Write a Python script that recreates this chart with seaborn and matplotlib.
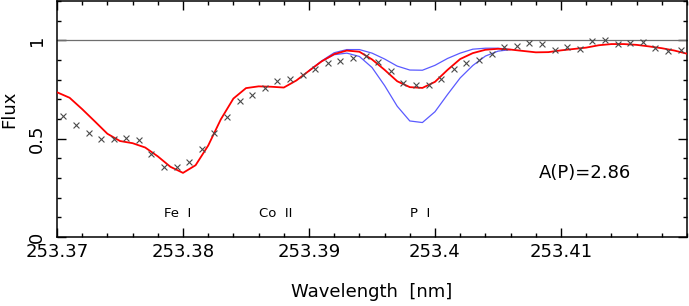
import numpy as np
import pandas as pd
import matplotlib
matplotlib.use("Agg")
import matplotlib.pyplot as plt
import seaborn as sns

# Observed spectrum (crosses), sampled every 0.001 nm from 253.3705
obs_wave = np.round(253.3705 + 0.001 * np.arange(50), 4)
obs_flux = [0.613, 0.572, 0.530, 0.499, 0.499, 0.503, 0.494, 0.423, 0.357, 0.357,
            0.382, 0.447, 0.530, 0.609, 0.689, 0.724, 0.760, 0.792, 0.802, 0.822,
            0.856, 0.885, 0.893, 0.912, 0.922, 0.888, 0.843, 0.783, 0.772, 0.772,
            0.804, 0.856, 0.885, 0.898, 0.932, 0.968, 0.970, 0.985, 0.981, 0.951,
            0.968, 0.956, 0.998, 1.002, 0.981, 0.988, 0.992, 0.959, 0.946, 0.953]

# Best-fit synthesis, A(P)=2.86 (red)
syn_wave = np.round(253.370 + 0.001 * np.arange(51), 4)
syn_best = [0.736, 0.708, 0.650, 0.588, 0.525, 0.488, 0.477, 0.455, 0.410, 0.357,
            0.326, 0.365, 0.465, 0.598, 0.704, 0.757, 0.766, 0.764, 0.760, 0.796,
            0.845, 0.893, 0.930, 0.948, 0.942, 0.903, 0.850, 0.792, 0.762, 0.758,
            0.789, 0.850, 0.905, 0.935, 0.952, 0.957, 0.953, 0.946, 0.939, 0.940,
            0.949, 0.956, 0.963, 0.975, 0.981, 0.981, 0.977, 0.969, 0.960, 0.948,
            0.932]

# Synthesis with lower / higher P abundance (blue), around the P I line
alt_wave = syn_wave[20:37]
syn_low = [0.845, 0.895, 0.937, 0.953, 0.953, 0.935, 0.905, 0.869, 0.849, 0.848,
           0.873, 0.908, 0.935, 0.955, 0.960, 0.960, 0.953]
syn_high = [0.845, 0.893, 0.927, 0.935, 0.918, 0.862, 0.770, 0.665, 0.590, 0.582,
            0.637, 0.725, 0.809, 0.872, 0.920, 0.945, 0.953]

line_names = ["Fe  I", "Co  II", "P  I"]
line_waves = [253.3796, 253.38735, 253.3988]

xtick_vals = [253.37, 253.38, 253.39, 253.40, 253.41]
xtick_labels = ["253.37", "253.38", "253.39", "253.4", "253.41"]
ytick_vals = [0, 0.5, 1]
ytick_labels = ["0", "0.5", "1"]

sns.set_theme(style="ticks")
plt.rcParams["font.family"] = ["DejaVu Sans"]
plt.rcParams["text.color"] = "black"
plt.rcParams["axes.labelcolor"] = "black"

fig = plt.figure(figsize=(6.89, 3.06), dpi=100)
ax = fig.add_axes([57 / 689, 1 - 237 / 306, 630 / 689, 236 / 306])

obs = pd.DataFrame({"wave": obs_wave, "flux": obs_flux})
best = pd.DataFrame({"wave": syn_wave, "flux": syn_best})
low = pd.DataFrame({"wave": alt_wave, "flux": syn_low})
high = pd.DataFrame({"wave": alt_wave, "flux": syn_high})

ax.axhline(1.0, color="#6e6e6e", lw=0.9, zorder=1)
sns.lineplot(data=low, x="wave", y="flux", ax=ax, color="#5a5aff", lw=0.9,
             sort=False, estimator=None, zorder=2)
sns.lineplot(data=high, x="wave", y="flux", ax=ax, color="#5a5aff", lw=0.9,
             sort=False, estimator=None, zorder=2)
sns.lineplot(data=best, x="wave", y="flux", ax=ax, color="red", lw=1.3,
             sort=False, estimator=None, zorder=3)
sns.scatterplot(data=obs, x="wave", y="flux", ax=ax, marker="x", s=18,
                color="#4a4a4a", linewidth=0.8, zorder=4)

for name, w in zip(line_names, line_waves):
    ax.text(w, 0.119, name, ha="center", va="center", fontsize=9.5, color="black")
ax.text(253.4119, 0.323, "A(P)=2.86", ha="center", va="center", fontsize=13, color="black")

ax.set_xlim(253.37, 253.42)
ax.set_ylim(0, 1.2)
ax.set_xticks(xtick_vals)
ax.set_xticklabels(xtick_labels)
ax.set_xticks(np.arange(253.37, 253.4201, 0.002), minor=True)
ax.set_yticks(ytick_vals)
ax.set_yticklabels(ytick_labels, rotation=90, va="center")
ax.set_yticks(np.arange(0, 1.21, 0.1), minor=True)

ax.tick_params(which="both", direction="in", top=True, right=True, colors="black",
               width=1.0, labelsize=13)
ax.tick_params(which="major", length=6.5)
ax.tick_params(which="minor", length=3.2)
ax.tick_params(axis="x", which="major", pad=4)
ax.tick_params(axis="y", which="major", pad=8)
for sp in ax.spines.values():
    sp.set_visible(True)
    sp.set_linewidth(1.1)
    sp.set_color("black")

ax.set_xlabel("Wavelength  [nm]", fontsize=13, color="black")
ax.set_ylabel("Flux", fontsize=13, color="black")
ax.xaxis.set_label_coords(0.5, -0.195)
ax.yaxis.set_label_coords(-0.061, 0.54)

fig.savefig("out.png", dpi=100)
